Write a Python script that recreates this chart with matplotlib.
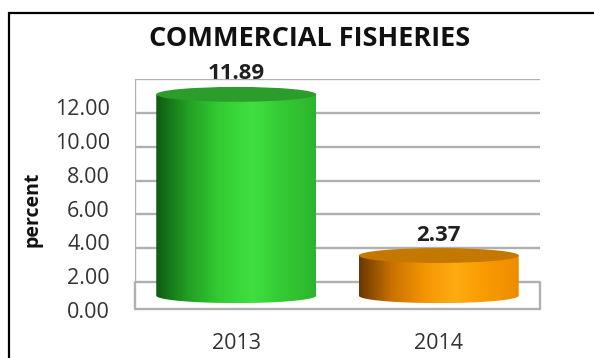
import numpy as np
import matplotlib
matplotlib.use("Agg")
import matplotlib.pyplot as plt
from matplotlib.colors import LinearSegmentedColormap
from matplotlib.patches import Ellipse, PathPatch, Rectangle, ConnectionPatch
from matplotlib.path import Path
import matplotlib.transforms as mtransforms

plt.rcParams["font.family"] = ["Open Sans", "DejaVu Sans"]

years = ["2013", "2014"]
values = [11.89, 2.37]
y_ticks = [0, 2, 4, 6, 8, 10, 12]

# side shading (dark edge -> highlight -> mid) and top face colour per cylinder
side_colors = [
    ["#0e5c12", "#22a024", "#33cc33", "#3fe03f", "#33c933", "#2cb52c"],
    ["#6a3800", "#c87000", "#f29400", "#ffab12", "#f89a00", "#ee8c00"],
]
top_colors = ["#2b9d2b", "#c47800"]

fig = plt.figure(figsize=(5.94, 3.58), dpi=100)
# axes run a bit below zero so the cylinder bases are not clipped
ax = fig.add_axes([135 / 594, 1 - 316 / 358, 405 / 594, 237 / 358])
ax.set_xlim(-0.5, 1.5)
ax.set_ylim(-2, 12)
for s in ax.spines.values():
    s.set_visible(False)

# black frame round the chart area (runs off the right/bottom edge)
fig.patches.append(Rectangle((9 / 594, -0.2), 1.2, 1 - 13 / 358 + 0.2,
                             transform=fig.transFigure, fill=False,
                             edgecolor="black", linewidth=1.6))

# depth of the 3d floor, in points
depth = 27 * 72 / 100
front = ax.transData + mtransforms.ScaledTranslation(0, -depth / 72, fig.dpi_scale_trans)
mid = ax.transData + mtransforms.ScaledTranslation(0, -depth / 144, fig.dpi_scale_trans)

grid_color = "#b0b0b0"
grid_lw = 1.7
ax.hlines(y_ticks, -0.5, 1.5, zorder=0, color=grid_color, linewidth=grid_lw)
ax.vlines(-0.5, 0, 12, zorder=0, color=grid_color, linewidth=grid_lw)
ax.plot([-0.5, 1.5], [0, 0], transform=front, zorder=0,
        color=grid_color, linewidth=grid_lw)
for xe in (-0.5, 1.5):
    cp = ConnectionPatch((xe, 0), (xe, 0), coordsA=ax.transData, coordsB=front,
                         zorder=0, color=grid_color, linewidth=grid_lw)
    ax.add_artist(cp)

width = 0.79
eh = 0.44  # half height of the cylinder end ellipses, data units
theta = np.linspace(np.pi, 2 * np.pi, 60)

for i, v in enumerate(values):
    x0 = i
    left, right = x0 - width / 2, x0 + width / 2
    verts = [(left, v), (left, 0)]
    verts += list(zip(x0 + width / 2 * np.cos(theta), eh * np.sin(theta)))
    verts += [(right, 0), (right, v), (left, v)]
    body = PathPatch(Path(verts, closed=True), transform=mid,
                     facecolor="none", edgecolor="none")
    ax.add_patch(body)

    cmap = LinearSegmentedColormap.from_list("side%d" % i, side_colors[i])
    grad = np.linspace(0, 1, 256)[None, :]
    im = ax.imshow(grad, cmap=cmap, aspect="auto", extent=[left, right, -eh, v],
                   transform=mid, zorder=2, interpolation="bilinear")
    im.set_clip_path(body)

    ax.add_patch(Ellipse((x0, v), width, 2 * eh, transform=mid,
                         facecolor=top_colors[i], edgecolor="none", zorder=3))

    ax.annotate("%.2f" % v, (x0, v), xytext=(0, 1), textcoords="offset points",
                ha="center", va="baseline", fontsize=16, fontweight="bold",
                color="#202020", zorder=4, annotation_clip=False)

ax.set_xlim(-0.5, 1.5)
ax.set_ylim(-2, 12)

ax.set_xticks([0, 1], years)
ax.set_yticks(y_ticks, ["%.2f" % t for t in y_ticks])
ax.tick_params(axis="x", length=0, pad=12, labelsize=15.5, labelcolor="#333333")
ax.tick_params(axis="y", length=0, pad=18, labelsize=15.5, labelcolor="#333333")
shift = mtransforms.ScaledTranslation(0, -28 / 100, fig.dpi_scale_trans)
for lbl in ax.get_yticklabels():
    lbl.set_transform(lbl.get_transform() + shift)

fig.text(309.5 / 594, 1 - 38.5 / 358, "COMMERCIAL FISHERIES", ha="center",
         va="center", fontsize=19.5, fontweight="bold", color="#111111")
fig.text(33 / 594, 1 - 209 / 358, "percent", ha="center", va="center",
         rotation=90, fontsize=14, fontweight="bold", color="#111111")

fig.savefig("out.png", dpi=100)
